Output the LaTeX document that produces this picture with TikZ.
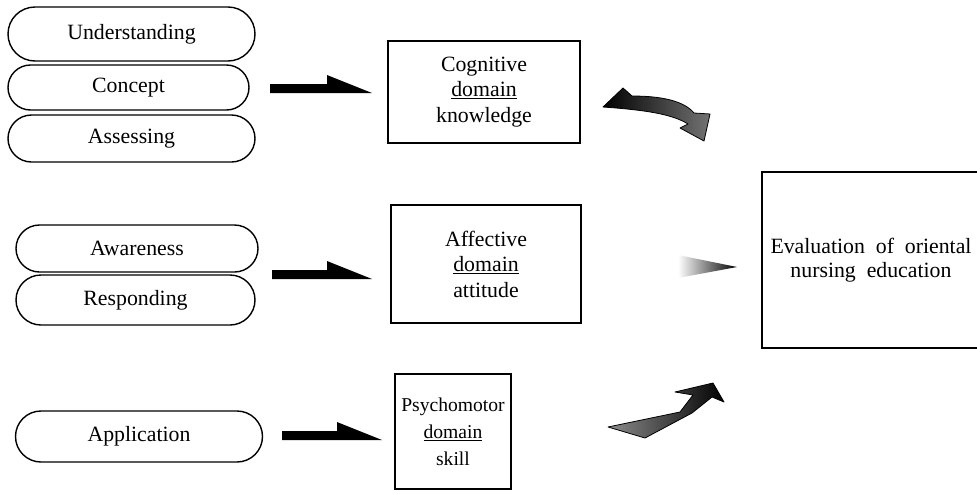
\documentclass[tikz,border=0pt]{standalone}
\usepackage{fontspec}
\setmainfont{Liberation Serif}
\usetikzlibrary{shapes.misc}
\begin{document}
\begin{tikzpicture}[x=1pt,y=-1pt,
  txt/.style={font=\fontsize{21.8}{25.5}\selectfont},
  oval/.style={txt, draw, line width=1.4pt, rounded rectangle, inner sep=0pt},
  dbox/.style={txt, draw, line width=1.6pt, align=center, inner sep=0pt},
  blockarrow/.style={fill=black, draw=none},
  curvearrow/.style={draw=black, line width=0.8pt, line join=round}]
\useasboundingbox (0,0) rectangle (977,493);

% ovals
\node[oval, minimum width=247pt, minimum height=54pt] (und) at (131.5,34) {Understanding};
\node[oval, minimum width=241pt, minimum height=45pt] (con) at (128.5,87.5) {Concept};
\node[oval, minimum width=247pt, minimum height=47pt] (ass) at (131.5,138.5) {Assessing};
\node[oval, minimum width=242pt, minimum height=47pt] (awa) at (137,248.5) {Awareness};
\node[oval, minimum width=239pt, minimum height=50pt] (res) at (135.5,300) {Responding};
\node[oval, minimum width=247pt, minimum height=51pt] (app) at (139,436.5) {Application};

% domain boxes
\node[dbox, minimum width=192pt, minimum height=102pt] (cog) at (484,92) {Cognitive\\\underline{domain}\\knowledge};
\node[dbox, minimum width=190pt, minimum height=118pt] (aff) at (486,264) {Affective\\\underline{domain}\\attitude};
\node[dbox, font=\fontsize{19.6}{27}\selectfont, minimum width=116pt, minimum height=115pt] (psy) at (453,431.5) {Psychomotor\\\underline{domain}\\skill};

% evaluation box (right side runs off the picture)
\node[dbox, minimum width=218pt, minimum height=176pt] (eva) at (871,260)
  {Evaluation\ \ of\ \ oriental\\[-1pt]nursing\ \ education};

% straight block arrows
\fill[blockarrow] (270,84) -- (327,84) -- (327,75) -- (372,93) -- (270,93) -- cycle;
\fill[blockarrow] (272,270) -- (327,270) -- (327,261) -- (372,279) -- (272,279) -- cycle;
\fill[blockarrow] (282,431) -- (337,431) -- (337,422) -- (382,440) -- (282,440) -- cycle;

% curved arrow from cognitive
\shade[curvearrow, left color=black, right color=black!55]
  (603,107) -- (623,88) -- (632,96)
  .. controls (662,96) and (684,101) .. (694,113)
  -- (710,114) -- (704,141) -- (680,128) -- (688,124)
  .. controls (672,114) and (645,110) .. (603,107) -- cycle;

% faded arrow from affective
\shade[left color=white, right color=black]
  (678,255) -- (737,267) -- (678,278) -- cycle;

% curved arrow from psychomotor
\shade[curvearrow, left color=black!45, right color=black]
  (608,427) -- (680,412) -- (693,395) -- (675,392) -- (713,383)
  -- (724,402) -- (712,397) -- (692,413) -- (645,438) -- cycle;
\end{tikzpicture}
\end{document}
